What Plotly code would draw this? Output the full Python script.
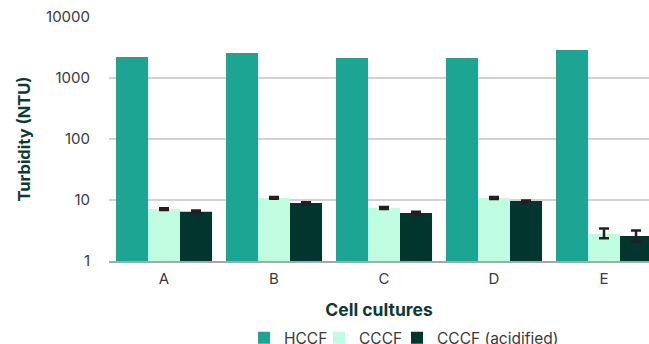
import plotly.graph_objects as go

# Turbidity of clarified harvests per cell culture
cultures = ["A", "B", "C", "D", "E"]

hccf = [2210, 2570, 2130, 2130, 2880]

cccf = [7.1, 10.8, 7.4, 10.8, 2.8]
cccf_err_plus = [0.25, 0.35, 0.3, 0.4, 0.62]
cccf_err_minus = [0.25, 0.35, 0.3, 0.4, 0.44]

cccf_acid = [6.4, 8.9, 6.1, 9.6, 2.57]
acid_err_plus = [0.3, 0.3, 0.3, 0.2, 0.6]
acid_err_minus = [0.3, 0.3, 0.3, 0.2, 0.5]

y_ticks = [1, 10, 100, 1000, 10000]
y_tick_text = ["1", "10", "100", "1000", "10000"]

FONT = "Inter"
TICK_COLOR = "#3a3a3a"
TITLE_COLOR = "#0b3b33"
ERR_COLOR = "#231f20"
W, H = 649, 344

fig = go.Figure()

fig.add_trace(go.Bar(
    name="HCCF", x=cultures, y=hccf, legend="legend",
    marker=dict(color="#1ca593", line=dict(width=0)),
))
fig.add_trace(go.Bar(
    name="CCCF", x=cultures, y=cccf, legend="legend2",
    marker=dict(color="#bffce0", line=dict(width=0)),
    error_y=dict(type="data", symmetric=False, array=cccf_err_plus,
                 arrayminus=cccf_err_minus, color=ERR_COLOR,
                 thickness=2.5, width=5),
))
fig.add_trace(go.Bar(
    name="CCCF (acidified)", x=cultures, y=cccf_acid, legend="legend3",
    marker=dict(color="#02352e", line=dict(width=0)),
    error_y=dict(type="data", symmetric=False, array=acid_err_plus,
                 arrayminus=acid_err_minus, color=ERR_COLOR,
                 thickness=2.5, width=5),
))


def legend_at(px_left):
    # one-item legend anchored at a pixel offset along the bottom row
    return dict(orientation="h", x=px_left / W, xanchor="left",
                xref="container", y=0.017, yanchor="middle",
                yref="container", itemwidth=30,
                bgcolor="rgba(0,0,0,0)",
                font=dict(family=FONT, size=15.5, color=TICK_COLOR))


fig.update_layout(
    width=W, height=H,
    margin=dict(l=109, r=0, t=17, b=83, autoexpand=False),
    paper_bgcolor="white", plot_bgcolor="white",
    barmode="group", bargap=0.127, bargroupgap=0,
    font=dict(family=FONT, color=TICK_COLOR, size=15),
    showlegend=True,
    legend=legend_at(244),
    legend2=legend_at(319),
    legend3=legend_at(397),
)

fig.update_xaxes(
    range=[-0.5, 4.409],
    showgrid=False, showline=True, linecolor="#a8a8a8", linewidth=2,
    ticks="", ticklabelstandoff=3,
    tickfont=dict(size=15, color=TICK_COLOR, family=FONT),
    title=dict(text="<b>Cell cultures</b>", standoff=17,
               font=dict(size=17.5, color=TITLE_COLOR, family=FONT)),
)

fig.update_yaxes(
    type="log", range=[0, 4],
    tickvals=y_ticks, ticktext=y_tick_text,
    showgrid=True, gridcolor="#d2d2d2", gridwidth=1.5,
    zeroline=False, showline=False, ticks="",
    ticklabelstandoff=18,
    tickfont=dict(size=15, color=TICK_COLOR, family=FONT),
    title=dict(text="<b>Turbidity (NTU)</b>", standoff=11,
               font=dict(size=16.5, color=TITLE_COLOR, family=FONT)),
)

fig.write_html("out.html")
